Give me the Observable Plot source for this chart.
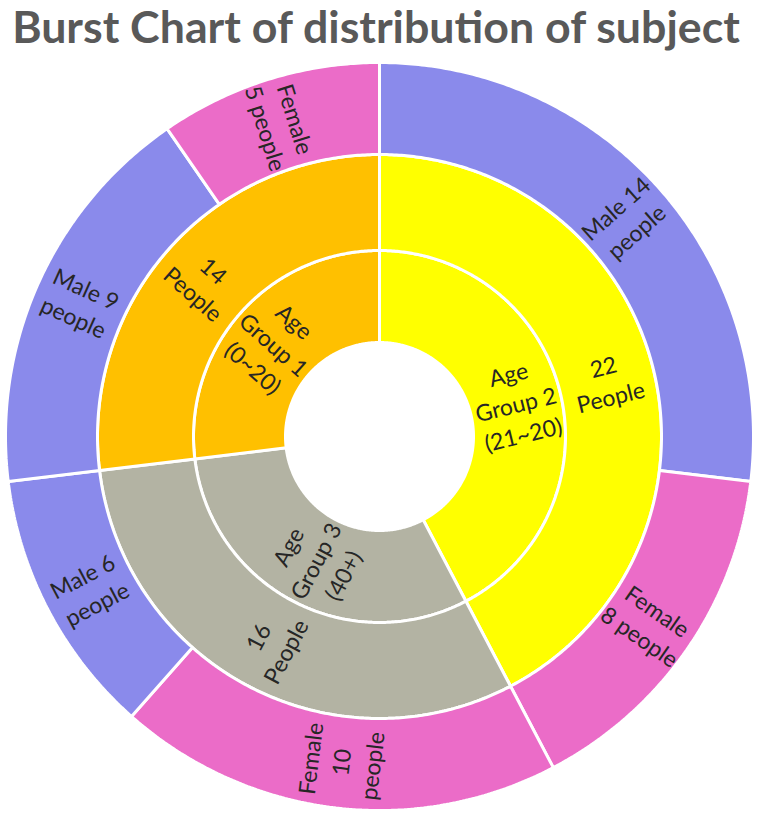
<!DOCTYPE html>
<html>
<head>
<meta charset="utf-8">
<script src="https://cdn.jsdelivr.net/npm/d3@7"></script>
<script src="https://cdn.jsdelivr.net/npm/@observablehq/plot@0.6"></script>
<style>
  html, body { margin: 0; padding: 0; background: #fff; }
  #title { height: 50px; box-sizing: border-box; padding-top: 2px; text-align: center; width: 752px; font-family: Lato, sans-serif; font-weight: 700; font-size: 40px; color: #595959; white-space: nowrap; line-height: 1.1; }
  #chart svg { display: block; }
</style>
</head>
<body>
<div id="title"><span id="tt">Burst Chart of distribution of subject</span></div>
<div id="chart"></div>
<script>
// ---- data (clockwise from 12 o'clock) ----
const ageGroups = ["Age\nGroup 2\n(21~20)", "Age\nGroup 3\n(40+)", "Age\nGroup 1\n(0~20)"];
const ageTotals = [22, 16, 14];
const ageCountLabels = ["22\nPeople", "16\nPeople", "14\nPeople"];
const ageColors = ["#FFFF00", "#B3B3A3", "#FFC000"];
const genderNames = [["Male", "Female"], ["Female", "Male"], ["Male", "Female"]];
const genderCounts = [[14, 8], [10, 6], [9, 5]];
const genderLabels = [["Male 14\npeople", "Female\n8 people"], ["Female\n10\npeople", "Male 6\npeople"], ["Male 9\npeople", "Female\n5 people"]];
const genderColors = {Male: "#8A8AEB", Female: "#EB6CC8"};

// ---- layout ----
const W = 761, H = 767, CX = 379, CY = 386;
const rHole = 94, rInner = 186, rMid = 282, rOuter = 374;

const total = d3.sum(ageTotals);
const toDeg = v => v / total * 360;

const polys = [];
const labels = [];
function addArc(id, a0, a1, r0, r1, color) {
  const n = Math.max(2, Math.ceil((a1 - a0) / 0.5));
  for (let i = 0; i <= n; i++) {
    const a = (a0 + (a1 - a0) * i / n) * Math.PI / 180;
    polys.push({id, color, x: r1 * Math.sin(a), y: r1 * Math.cos(a)});
  }
  for (let i = n; i >= 0; i--) {
    const a = (a0 + (a1 - a0) * i / n) * Math.PI / 180;
    polys.push({id, color, x: r0 * Math.sin(a), y: r0 * Math.cos(a)});
  }
}
function addLabel(text, a0, a1, r0, r1) {
  const m = (a0 + a1) / 2, r = (r0 + r1) / 2, a = m * Math.PI / 180;
  labels.push({text, x: r * Math.sin(a), y: r * Math.cos(a), rotate: m < 180 ? m - 90 : m - 270});
}

let start = 0;
ageTotals.forEach((t, i) => {
  const a0 = toDeg(start), a1 = toDeg(start + t);
  addArc("in" + i, a0, a1, rHole, rInner, ageColors[i]);
  addArc("mid" + i, a0, a1, rInner, rMid, ageColors[i]);
  addLabel(ageGroups[i], a0, a1, rHole, rInner);
  addLabel(ageCountLabels[i], a0, a1, rInner, rMid);
  let s2 = start;
  genderCounts[i].forEach((c, j) => {
    const b0 = toDeg(s2), b1 = toDeg(s2 + c);
    addArc("out" + i + "_" + j, b0, b1, rMid, rOuter, genderColors[genderNames[i][j]]);
    addLabel(genderLabels[i][j], b0, b1, rMid, rOuter);
    s2 += c;
  });
  start += t;
});

const chart = Plot.plot({
  width: W,
  height: H,
  margin: 0,
  x: {axis: null, domain: [-CX, W - CX], range: [0, W]},
  y: {axis: null, domain: [-(H - CY), CY], range: [H, 0]},
  color: {type: "identity"},
  marks: [
    Plot.line(polys, {x: "x", y: "y", z: "id", fill: "color", stroke: "white", strokeWidth: 3, strokeLinejoin: "miter", curve: "linear-closed"}),
    Plot.text(labels, {x: "x", y: "y", text: "text", rotate: "rotate", fontSize: 23, lineHeight: 1.35, fill: "#262626", fontFamily: "Lato, sans-serif"})
  ]
});
document.getElementById("chart").appendChild(chart);

// fit title width
const title = document.getElementById("title");
const w = document.getElementById("tt").getBoundingClientRect().width;
title.style.fontSize = (40 * 728 / w) + "px";
</script>
</body>
</html>
